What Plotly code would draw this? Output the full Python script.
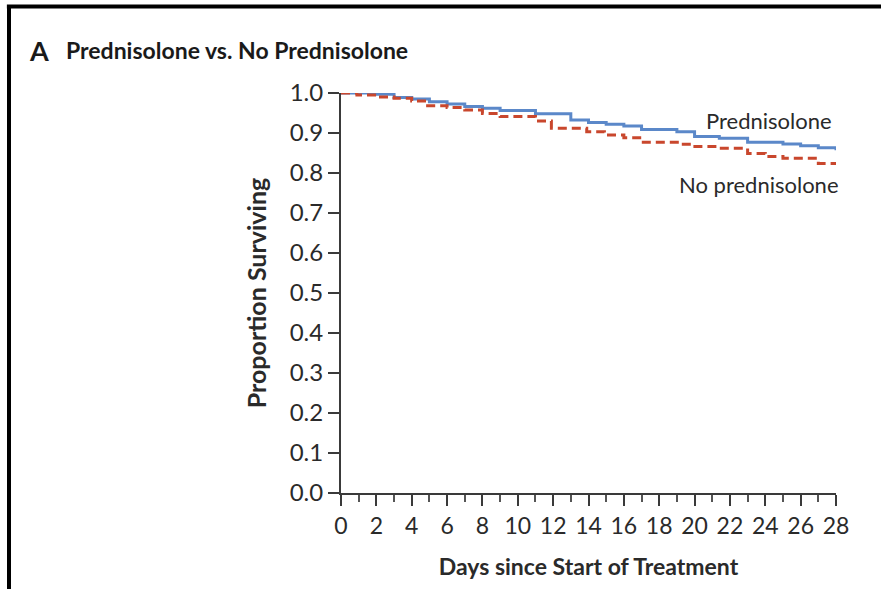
import plotly.graph_objects as go

# Kaplan-Meier step data (days, proportion surviving)
pred_days = [0, 1.9, 3, 4, 5, 6, 7, 8, 9, 11, 13, 14, 15, 16, 17, 19, 20, 21.4, 23, 25, 26, 27, 28]
pred_vals = [1.0, 0.997, 0.989, 0.985, 0.978, 0.9725, 0.966, 0.962, 0.956, 0.948, 0.9325, 0.926,
             0.922, 0.9175, 0.909, 0.903, 0.891, 0.887, 0.877, 0.8725, 0.868, 0.863, 0.857]

nopred_days = [0, 0.9, 1.9, 3, 4, 4.9, 6, 7, 8, 9, 11, 11.9, 13.9, 14.9, 16, 17.1, 19.2, 19.9,
               21.4, 23, 24, 25, 27, 28]
nopred_vals = [1.0, 0.995, 0.99, 0.987, 0.98, 0.968, 0.964, 0.9575, 0.949, 0.941, 0.93, 0.912,
               0.903, 0.895, 0.888, 0.877, 0.872, 0.866, 0.862, 0.849, 0.841, 0.837, 0.824, 0.824]

x_ticks = list(range(0, 29, 2))
y_ticks = [round(i * 0.1, 1) for i in range(11)]

BLUE = "#5B88C9"
RED = "#C9472D"
AX = "#3A3A3A"
TXT = "#2a2a2a"
FONT = "Lato, Open Sans, sans-serif"

fig = go.Figure()
fig.add_trace(go.Scatter(x=pred_days, y=pred_vals, mode="lines", line_shape="hv",
                         line=dict(color=BLUE, width=3), name="Prednisolone", cliponaxis=False))
fig.add_trace(go.Scatter(x=nopred_days, y=nopred_vals, mode="lines", line_shape="hv",
                         line=dict(color=RED, width=3, dash="9px,5px"), name="No prednisolone",
                         cliponaxis=False))

fig.update_layout(
    width=881, height=589,
    margin=dict(l=341, r=45, t=93, b=96),
    paper_bgcolor="white", plot_bgcolor="white",
    showlegend=False,
    font=dict(family=FONT, size=22, color=TXT),
)

fig.update_xaxes(
    range=[0, 28], tickvals=x_ticks, showgrid=False, zeroline=False,
    showline=True, linecolor=AX, linewidth=2,
    ticks="outside", ticklen=11, tickwidth=2, tickcolor=AX,
    minor=dict(dtick=1, ticks="outside", ticklen=7, tickwidth=1.5, tickcolor="#555"),
    tickfont=dict(family=FONT, size=23, color=TXT),
    title=dict(text="<b>Days since Start of Treatment</b>", standoff=21,
               font=dict(family=FONT, size=23, color=TXT)),
)
fig.update_yaxes(
    range=[0, 1], tickvals=y_ticks, tickformat=".1f", showgrid=False, zeroline=False,
    showline=True, linecolor=AX, linewidth=2,
    ticks="outside", ticklen=11, tickwidth=2, tickcolor=AX,
    tickfont=dict(family=FONT, size=24, color=TXT),
    title=dict(text="<b>Proportion Surviving</b>", standoff=16,
               font=dict(family=FONT, size=25, color=TXT)),
)

# curve labels
fig.add_annotation(x=28, y=0.932, xref="x", yref="y", text="Prednisolone", showarrow=False,
                   xanchor="right", yanchor="middle", xshift=-2,
                   font=dict(family=FONT, size=22, color=TXT))
fig.add_annotation(x=28, y=0.772, xref="x", yref="y", text="No prednisolone", showarrow=False,
                   xanchor="right", yanchor="middle", xshift=5,
                   font=dict(family=FONT, size=22, color=TXT))

# panel title
fig.add_annotation(x=-0.634, y=1.1075, xref="paper", yref="paper", text="<b>A</b>", showarrow=False,
                   xanchor="left", yanchor="middle", font=dict(family=FONT, size=27, color="#1a1a1a"))
fig.add_annotation(x=-0.5596, y=1.1075, xref="paper", yref="paper",
                   text="<b>Prednisolone vs. No Prednisolone</b>", showarrow=False,
                   xanchor="left", yanchor="middle", font=dict(family=FONT, size=23, color="#1a1a1a"))

# frame: only top and left edges are visible in the cropped figure
fig.add_shape(type="line", xref="paper", yref="paper", x0=-0.675, x1=1.2, y0=1.216, y1=1.216,
              line=dict(color="black", width=4), layer="below")
fig.add_shape(type="line", xref="paper", yref="paper", x0=-0.6707, x1=-0.6707, y0=-0.3, y1=1.22,
              line=dict(color="black", width=4), layer="below")

fig.write_html("out.html")
